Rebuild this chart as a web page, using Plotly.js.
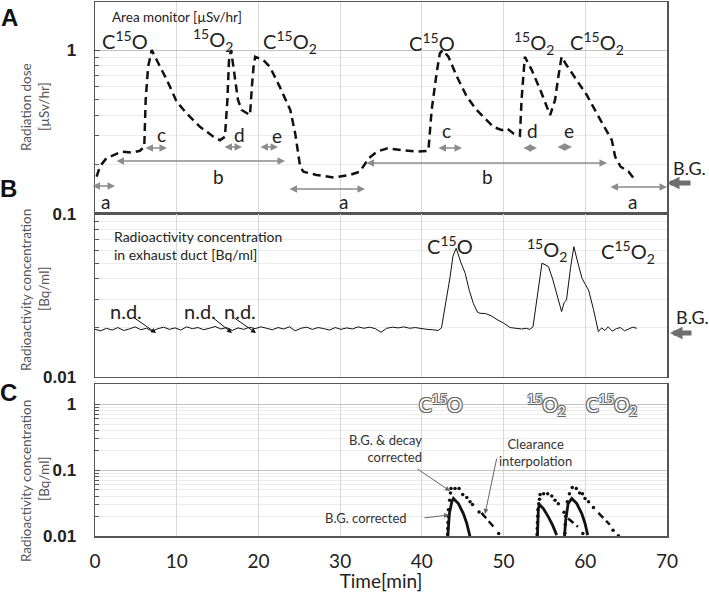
<!DOCTYPE html>
<html><head><meta charset="utf-8">
<script src="https://cdn.plot.ly/plotly-3.0.1.min.js"></script>
<style>html,body{margin:0;padding:0;background:#fff}#chart{width:709px;height:592px}</style>
</head><body><div id="chart"></div>
<script>
// ---------- DATA ----------
// Panel A: area monitor dose rate [µSv/hr]
const doseTime = [0.2,0.6,1.4,2.45,3.27,4.5,5.5,6.03,6.2,6.5,6.94,7.55,8.8,10.0,11.2,12.85,14.5,15.3,15.9,16.2,16.4,16.65,17.1,17.5,17.95,18.57,18.97,19.2,19.4,19.6,20.6,21.4,22.6,23.9,24.5,25.1,25.5,27.1,29.2,31.2,32.4,33.5,34.5,35.7,37.3,39.4,40.8,41.2,41.8,42.2,42.55,43.25,44.3,45.5,46.7,47.9,48.75,49.8,50.4,51.2,52.0,52.2,52.4,52.6,53.45,54.5,55.7,56.3,56.7,57.1,57.7,58.96,60.2,61.4,62.6,63.25,63.65,64.3,65.3,66.1];
const doseRate = [0.169,0.195,0.219,0.232,0.240,0.237,0.243,0.257,0.496,0.79,1.0,0.869,0.656,0.484,0.411,0.340,0.296,0.282,0.296,0.496,0.869,1.0,0.687,0.496,0.431,0.411,0.401,0.598,0.79,0.91,0.869,0.79,0.598,0.431,0.310,0.195,0.181,0.173,0.167,0.173,0.181,0.219,0.240,0.251,0.246,0.240,0.243,0.431,0.721,0.955,1.0,0.91,0.687,0.52,0.431,0.374,0.340,0.325,0.333,0.310,0.300,0.496,0.721,0.91,0.755,0.570,0.401,0.496,0.687,0.91,0.81,0.656,0.53,0.411,0.325,0.282,0.224,0.195,0.181,0.161];

// Panel B: radioactivity concentration in exhaust duct [Bq/ml]
const ductTime = [0,0.7,1.4,2.1,2.8,3.5,4.2,4.9,5.6,6.3,7.0,7.7,8.4,9.1,9.8,10.5,11.2,11.9,12.6,13.3,14.0,14.7,15.4,16.1,16.8,17.5,18.2,18.9,19.6,20.3,21.0,21.7,22.4,23.1,23.8,24.5,25.2,25.9,26.6,27.3,28.0,28.7,29.4,30.1,30.8,31.5,32.2,32.9,33.6,34.3,35.0,35.7,36.4,37.1,37.8,38.5,39.2,39.9,40.6,41.3,42.0,42.4,42.8,43.45,43.8,44.2,44.8,45.3,45.8,46.3,46.8,47.1,47.8,48.5,49.2,50.0,50.8,51.5,52.2,52.8,53.2,53.6,54.0,54.4,54.7,55.2,55.5,56.0,56.6,57.1,57.4,57.7,58.2,58.6,59.1,59.6,60.0,60.4,61.0,61.6,62.0,62.4,62.8,63.3,63.8,64.3,64.8,65.3,65.8,66.3];
const ductConc = [0.0196,0.0192,0.0199,0.0194,0.0201,0.0193,0.0197,0.0203,0.0195,0.0199,0.0191,0.0198,0.0202,0.0196,0.0200,0.0194,0.0203,0.0198,0.0201,0.0195,0.0199,0.0204,0.0197,0.0201,0.0193,0.0200,0.0196,0.0202,0.0198,0.0203,0.0199,0.0195,0.0201,0.0197,0.0203,0.0192,0.0199,0.0202,0.0196,0.0201,0.0198,0.0194,0.0201,0.0196,0.0200,0.0197,0.0203,0.0199,0.0202,0.0198,0.0188,0.0199,0.0202,0.0200,0.0203,0.0199,0.0201,0.0198,0.0196,0.0195,0.0193,0.0200,0.0260,0.0410,0.0550,0.0616,0.0500,0.0433,0.0340,0.0283,0.0250,0.0246,0.0245,0.0237,0.0225,0.0214,0.0201,0.0198,0.0197,0.0199,0.0196,0.0203,0.0280,0.0400,0.0499,0.0485,0.0475,0.0400,0.0310,0.0252,0.0285,0.0297,0.0470,0.0630,0.0500,0.0403,0.0370,0.0342,0.0260,0.0190,0.0200,0.0193,0.0203,0.0191,0.0198,0.0201,0.0192,0.0197,0.0202,0.0199];

// Panel C: B.G. corrected (solid), three peaks separated by null
const bgTime = [43.17,43.37,43.66,43.86,44.47,45.08,45.5,45.8,45.9,null,54.14,54.18,54.26,54.38,54.87,55.48,56.0,56.5,null,57.45,57.6,57.9,58.35,58.96,59.57,59.97,60.3];
const bgConc = [0.0097,0.0219,0.033,0.0372,0.031,0.0219,0.0155,0.0109,0.0097,null,0.0097,0.0173,0.0261,0.030,0.0261,0.0195,0.0146,0.0103,null,0.0097,0.0173,0.031,0.0372,0.031,0.0219,0.0155,0.0103];
// Panel C: B.G. & decay corrected (dots)
const decayTime = [43.15,43.17,43.2,43.22,43.25,43.4,43.5,43.57,44.06,44.55,45.0,45.5,45.9,46.2,47.0,49.4,54.1,54.12,54.15,54.18,54.2,54.3,54.4,54.47,54.9,55.4,55.9,56.3,56.7,59.7,57.4,57.5,57.55,57.6,57.8,58.06,58.4,58.9,59.3,59.65,59.97,60.4,61.0,63.4,64.05];
const decayConc = [0.0105,0.013,0.016,0.020,0.025,0.035,0.045,0.0526,0.0526,0.0526,0.0427,0.0384,0.033,0.030,0.0232,0.0109,0.0105,0.013,0.016,0.020,0.025,0.031,0.036,0.0427,0.044,0.044,0.0406,0.035,0.031,0.0109,0.023,0.011,0.015,0.020,0.033,0.044,0.0546,0.0526,0.045,0.044,0.037,0.033,0.027,0.0122,0.0101];
// Panel C: clearance interpolation (dashed), null separated
const clearTime = [47.3,48.96,null,57.9,59.1,null,61.6,63.0];
const clearConc = [0.0224,0.013,null,0.0184,0.0138,null,0.0224,0.0149];

// Axis ticks
const xTicks = [0,10,20,30,40,50,60,70];
const minorA = [0.2,0.3,0.4,0.5,0.6,0.7,0.8,0.9];
const minorB = [0.02,0.03,0.04,0.05,0.06,0.07,0.08,0.09];
const minorC = [0.02,0.03,0.04,0.05,0.06,0.07,0.08,0.09,0.2,0.3,0.4,0.5,0.6,0.7,0.8,0.9];

// ---------- LAYOUT HELPERS ----------
const L=95, R=42, T=2, B=56, W=709, H=592;
const PW=W-L-R, PH=H-T-B;
const px=(x)=>(x-L)/PW;
const py=(y)=>(H-B-y)/PH;
const FONT='Lato, "Open Sans", sans-serif';

const traces = [
  {x:doseTime, y:doseRate, xaxis:'x', yaxis:'y', mode:'lines', line:{color:'#111', width:2.5, dash:'8px,5px'}, hoverinfo:'skip'},
  {x:ductTime, y:ductConc, xaxis:'x2', yaxis:'y2', mode:'lines', line:{color:'#111', width:1}, hoverinfo:'skip'},
  {x:bgTime, y:bgConc, xaxis:'x3', yaxis:'y3', mode:'lines', line:{color:'#111', width:2.8}, connectgaps:false, hoverinfo:'skip'},
  {x:decayTime, y:decayConc, xaxis:'x3', yaxis:'y3', mode:'markers', marker:{color:'#111', size:3.5}, cliponaxis:false, hoverinfo:'skip'},
  {x:clearTime, y:clearConc, xaxis:'x3', yaxis:'y3', mode:'lines', line:{color:'#111', width:2.5, dash:'7px,4px'}, connectgaps:false, hoverinfo:'skip'}
];

function xax(anchor, labels){
  return {anchor:anchor, range:[0,70], tickvals:xTicks, showticklabels:labels,
    showgrid:true, gridcolor:'#d9d9d9', gridwidth:1, zeroline:false,
    showline:true, mirror:true, linecolor:'#555', linewidth:1.5, ticks:'',
    tickfont:{family:FONT, size:19, color:'#222'}, ticklabelstandoff:8};
}
function yax(domain, range, vals, text, minor){
  return {type:'log', domain:domain, range:range, tickvals:vals, ticktext:text,
    showgrid:true, gridcolor:'#c4c4c4', gridwidth:1, zeroline:false,
    showline:true, mirror:true, linecolor:'#555', linewidth:1.5,
    ticks:'inside', ticklen:5, tickcolor:'#555',
    tickfont:{family:'"Liberation Sans", Arial, sans-serif', size:17, color:'#222', weight:700},
    ticklabelstandoff:14,
    minor:{tickmode:'array', tickvals:minor, ticks:'inside', ticklen:4, tickcolor:'#555', showgrid:true, gridcolor:'#ececec', gridwidth:1}};
}

const ann = [];
function txt(t, x, y, size, opts){
  ann.push(Object.assign({text:t, xref:'paper', yref:'paper', x:px(x), y:py(y), showarrow:false,
    xanchor:'center', yanchor:'middle', font:{family:FONT, size:size, color:'#222'}}, opts||{}));
}
function arr(x0, y0, x1, y1, color, width, head, both, size){
  ann.push({text:'', xref:'paper', yref:'paper', x:px(x1), y:py(y1), ax:x0-x1, ay:y0-y1,
    axref:'pixel', ayref:'pixel', showarrow:true, arrowcolor:color, arrowwidth:width,
    arrowhead:head, arrowsize:size||1, arrowside: both ? 'end+start' : 'end', standoff:0, startstandoff:0});
}

// Panel letters
const letterFont = {family:'"Liberation Sans", Arial', size:24, color:'#111', weight:700};
txt('A', 9, 18, 24, {font:letterFont});
txt('B', 8, 189, 24, {font:letterFont});
txt('C', 8, 392, 24, {font:letterFont});

// Y titles
const ytf = {family:FONT, size:13.5, color:'#555'};
txt('Radiation dose', 26, 107, 13.5, {textangle:-90, font:ytf});
txt('[µSv/hr]', 44, 107, 13.5, {textangle:-90, font:ytf});
txt('Radioactivity concentration', 26, 290, 13.5, {textangle:-90, font:ytf});
txt('[Bq/ml]', 44, 289, 13.5, {textangle:-90, font:ytf});
txt('Radioactivity concentration', 26, 481, 13.5, {textangle:-90, font:ytf});
txt('[Bq/ml]', 44, 479, 13.5, {textangle:-90, font:ytf});

// Panel A labels
txt('Area monitor [µSv/hr]', 110, 17, 13.5, {xanchor:'left'});
txt('C<sup>15</sup>O', 125, 40, 20);
txt('<sup>15</sup>O<sub>2</sub>', 213, 40, 20);
txt('C<sup>15</sup>O<sub>2</sub>', 290, 42, 20);
txt('C<sup>15</sup>O', 432, 42, 20);
txt('<sup>15</sup>O<sub>2</sub>', 534, 43, 20);
txt('C<sup>15</sup>O<sub>2</sub>', 597, 43, 20);

// Panel A interval arrows (gray, double-headed)
const G='#8c8c8c';
const intervals = [
  ['a', 91,115,186, 105,201],
  ['b',115,285,161, 218,176],
  ['c',144,167,148, 161,134],
  ['d',223,242,147, 239,134],
  ['e',259,278,147, 277,135],
  ['a',288,365,189, 343,201],
  ['b',365,607,163, 487,176],
  ['c',437,462,148, 446,130],
  ['d',522,537,148, 532,130],
  ['e',556,572,147, 569,130],
  ['a',609,667,187, 632,201]
];
intervals.forEach(v=>{ arr(v[1],v[3],v[2],v[3],G,1.5,2,true); txt(v[0],v[4],v[5],19); });

// B.G. arrows
arr(692,183,667,183,'#6e6e6e',5,2,false,0.5); txt('B.G.',689,168,18);
arr(693,333,670,333,'#6e6e6e',5,2,false,0.5); txt('B.G.',692,317,18);

// Panel B labels
txt('Radioactivity concentration<br>in exhaust duct [Bq/ml]', 112, 245, 14, {xanchor:'left', align:'left'});
txt('C<sup>15</sup>O', 450, 245, 20);
txt('<sup>15</sup>O<sub>2</sub>', 547, 250, 20);
txt('C<sup>15</sup>O<sub>2</sub>', 628, 252, 20);
txt('n.d.', 126, 311, 20); txt('n.d.', 200, 311, 20); txt('n.d.', 240, 311, 20);
arr(133,317,156,333,'#111',1,2,false);
arr(212,317,232,333,'#111',1,2,false);
arr(233,317,256,333,'#111',1,2,false);

// Panel C labels
const outline = {family:FONT, size:19, color:'#ffffff', shadow:'-1px -1px 0 #666, 1px -1px 0 #666, -1px 1px 0 #666, 1px 1px 0 #666'};
txt('C<sup>15</sup>O', 440, 403, 19, {font:outline});
txt('<sup>15</sup>O<sub>2</sub>', 546, 405, 19, {font:outline});
txt('C<sup>15</sup>O<sub>2</sub>', 611, 405, 19, {font:outline});
const smallC = {family:FONT, size:13, color:'#333'};
txt('B.G. &amp; decay<br>corrected', 424, 449, 13, {xanchor:'right', align:'right', font:smallC});
txt('Clearance<br>interpolation', 535, 452, 13, {font:smallC});
txt('B.G. corrected', 366, 518, 13, {font:smallC});
arr(416,468,450,491,'#666',1,2,false);
arr(497,457,485,514,'#666',1,2,false);
arr(423,518,449,515,'#666',1,2,false);

const layout = {
  width:W, height:H, margin:{l:L, r:R, t:T, b:B},
  paper_bgcolor:'#fff', plot_bgcolor:'#fff', showlegend:false,
  font:{family:FONT, color:'#222'},
  xaxis: xax('y', false),
  xaxis2: xax('y2', false),
  xaxis3: Object.assign(xax('y3', true), {title:{text:'Time[min]', standoff:5, font:{family:FONT, size:19, color:'#222'}}}),
  yaxis: yax([0.603,1], [-1,0.293], [0.1,1], ['0.1','1'], minorA),
  yaxis2: yax([0.2978,0.603], [-2,-1], [0.01], ['0.01'], minorB),
  yaxis3: yax([0,0.2846], [-2,0.308], [0.01,0.1,1], ['0.01','0.1','1'], minorC),
  annotations: ann
};
Plotly.newPlot('chart', traces, layout, {staticPlot:true, displayModeBar:false});
</script></body></html>
